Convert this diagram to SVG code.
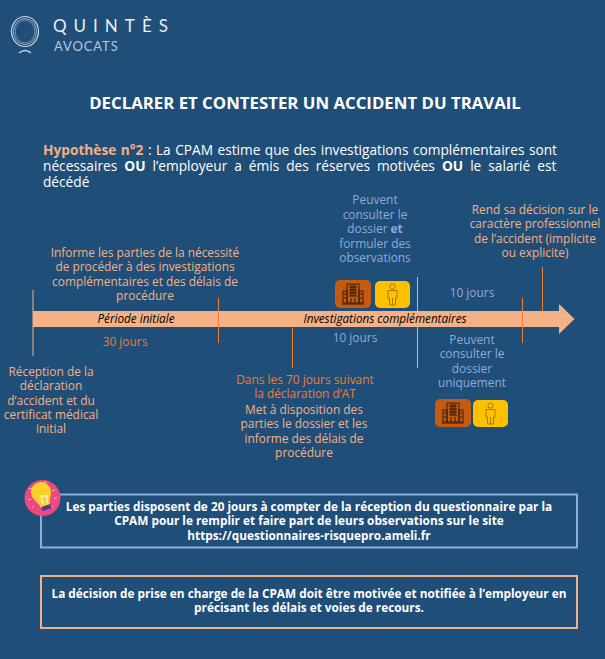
<svg xmlns="http://www.w3.org/2000/svg" width="605" height="659" viewBox="0 0 605 659">
<style>
text{font-family:"Open Sans","Noto Sans","Liberation Sans",sans-serif;font-size:11.9px;text-anchor:middle}
.p{fill:#F4B183}.o{fill:#ED7D31}.b{fill:#8FAADC}.w{fill:#fff;font-weight:700;font-size:11.800px}
.i{fill:#000;font-style:italic;font-size:11.700px}
.h{font-size:13.700px;text-anchor:start;fill:#fff}
.ln{stroke-width:1;fill:none}
.icon{fill:none;stroke:#3a1c05;stroke-width:1}
.per{fill:none;stroke:#A67C00;stroke-width:1}
</style>
<rect width="605" height="659" fill="#1F4E79"/>
<g id="logo">
<ellipse cx="25" cy="31.500" rx="13.500" ry="15" fill="none" stroke="#c9d5e2" stroke-width="1.200"/>
<ellipse cx="25" cy="31.500" rx="11.500" ry="13" fill="none" stroke="#9fb5cc" stroke-width="1"/>
<ellipse cx="25" cy="31.500" rx="9.800" ry="11.300" fill="none" stroke="#7f9cb9" stroke-width="0.800"/>
<path d="M19 53q6-5 12 0" fill="none" stroke="#c9d5e2" stroke-width="1.500"/>
<text x="53" y="32" style="font-size:17px;letter-spacing:7px;text-anchor:start;font-family:Lato,sans-serif" fill="#e8eef4">QUINTÈS</text>
<text x="54" y="51" style="font-size:13px;letter-spacing:0.900px;text-anchor:start;font-family:Lato,sans-serif" fill="#b8c8d8">AVOCATS</text>
</g>
<text x="305" y="108.500" style="font-size:16.800px;font-weight:700" fill="#fff">DECLARER ET CONTESTER UN ACCIDENT DU TRAVAIL</text>
<g id="hypothese">
<text class="h" x="43" y="155" word-spacing="0.900"><tspan fill="#F4B183" font-weight="700">Hypothèse n°2</tspan> : La CPAM estime que des investigations complémentaires sont</text>
<text class="h" x="43" y="171" word-spacing="3.450">nécessaires <tspan font-weight="700">OU</tspan> l’employeur a émis des réserves motivées <tspan font-weight="700">OU</tspan> le salarié est</text>
<text class="h" x="43" y="186.500">décédé</text>
</g>
<g id="connectors">
<path d="M33 290V356" class="ln" stroke="#F4B183"/>
<path id="arrow" d="M33 311H559V304L574.500 319L559 334V327H33Z" fill="#F4B183"/>
<path d="M218.500 298V343M292.500 328V368M522.500 298V343M542.500 267V312" class="ln" stroke="#ED7D31"/>
<path d="M417.500 277V368" class="ln" stroke="#A9BEDF"/>
</g>
<text class="i" x="136" y="323">Période initiale</text>
<text class="i" x="385" y="323">Investigations complémentaires</text>
<g id="n1" class="p"><text x="51" y="375.500">Réception de la</text><text x="51" y="389.500">déclaration</text><text x="51" y="404.500">d’accident et du</text><text x="51" y="418.500">certificat médical</text><text x="51" y="432.500">initial</text></g>
<g id="n2" class="p"><text x="145" y="257">Informe les parties de la nécessité</text><text x="145" y="271">de procéder à des investigations</text><text x="145" y="286">complémentaires et des délais de</text><text x="145" y="300">procédure</text></g>
<text id="d30" class="o" x="125" y="346">30 jours</text>
<g id="n3"><text class="o" x="305" y="384">Dans les 70 jours suivant</text><text class="o" x="305" y="398">la déclaration d’AT</text><text class="p" x="304" y="414">Met à disposition des</text><text class="p" x="304" y="428">parties le dossier et les</text><text class="p" x="304" y="443">informe des délais de</text><text class="p" x="304" y="457">procédure</text></g>
<g id="n4" class="b"><text x="375" y="204">Peuvent</text><text x="375" y="219">consulter le</text><text x="375" y="233">dossier <tspan font-weight="700">et</tspan></text><text x="375" y="248">formuler des</text><text x="375" y="262">observations</text></g>
<text id="d10a" class="b" x="355" y="342">10 jours</text>
<text id="d10b" class="b" x="472" y="297">10 jours</text>
<g id="n5" class="p"><text x="535" y="214">Rend sa décision sur le</text><text x="535" y="228">caractère professionnel</text><text x="535" y="243">de l’accident (implicite</text><text x="535" y="257">ou explicite)</text></g>
<g id="n6" class="b"><text x="472" y="344">Peuvent</text><text x="472" y="358">consulter le</text><text x="472" y="373">dossier</text><text x="472" y="387">uniquement</text></g>
<defs>
<g id="bld"><rect x="0" y="0" width="36" height="28" rx="5" fill="#C55A11"/><g class="icon"><rect x="12" y="4" width="12" height="19"/><rect x="8" y="11" width="4" height="12"/><rect x="24" y="11" width="4" height="12"/><path d="M7 24H29M14 7H22M14 10H22M14 13H22M14 16H22M16 5V16M18 5V16M20 5V16M16 18V23M20 18V23M9 14H11M9 18H11M25 14H27M25 18H27"/></g></g>
<g id="per"><rect x="0" y="0" width="35" height="27" rx="5" fill="#FFC000"/><g class="per"><circle cx="17.500" cy="5.500" r="2.600"/><path d="M13 9.500H22V17H20.500V24H14.500V17H13ZM17.500 17V24"/></g></g>
</defs>
<g id="icons1"><use href="#bld" x="335" y="280"/><use href="#per" x="375" y="281"/></g>
<g id="icons2"><use href="#bld" x="435" y="399"/><use href="#per" x="473" y="400"/></g>
<g id="note1">
<rect x="41" y="494.500" width="536" height="53" fill="none" stroke="#8FAADC" stroke-width="2"/>
<text class="w" x="309" y="510.500">Les parties disposent de 20 jours à compter de la réception du questionnaire par la</text>
<text class="w" x="309" y="524.500">CPAM pour le remplir et faire part de leurs observations sur le site</text>
<text class="w" x="309" y="539.500">https://questionnaires-risquepro.ameli.fr</text>
<circle cx="42.500" cy="498" r="18" fill="#F0487C"/>
<path d="M29 488l3 1M28 500l3-1M32 508l2-2M55 490l-3 1M57 498h-3M53 507l-2-1M44 482l3 0" stroke="#F9B4C8" fill="none"/>
<path d="M41 508C39 502 31 500 31 492A10 9.500 0 0 1 51 491C51 497 49 500 50 505Z" fill="#FFD02B"/>
<path d="M42 509L51 506" stroke="#4A3B9E" stroke-width="4"/>
<path d="M43 504L41 496M47 503L47 495M41 496H47" stroke="#fff" fill="none"/>
</g>
<g id="note2">
<rect x="41" y="576" width="536" height="52" fill="none" stroke="#F4B183" stroke-width="2"/>
<text class="w" x="309" y="597.500">La décision de prise en charge de la CPAM doit être motivée et notifiée à l’employeur en</text>
<text class="w" x="309" y="611.500">précisant les délais et voies de recours.</text>
</g>
</svg>
